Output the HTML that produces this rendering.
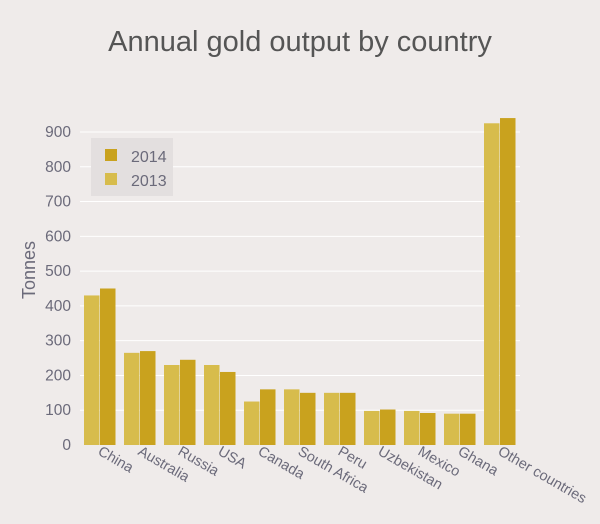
<!DOCTYPE html>
<html><head><meta charset="utf-8"><style>
body{margin:0;background:#efebea;}
svg{display:block;font-family:"Liberation Sans",sans-serif;}
</style></head><body>
<svg id="c" width="600" height="524">
<rect width="600" height="524" fill="#efebea"/>
<text x="300" y="51" text-anchor="middle" font-size="29" fill="#555">Annual gold output by country</text>
<g id="grid"></g><g id="bars"></g><g id="xl"></g>
<text transform="translate(35,270) rotate(-90)" text-anchor="middle" font-size="18" fill="#6b6a7a">Tonnes</text>
<g>
<rect x="91" y="138" width="82" height="58" fill="#e3dfdf"/>
<rect x="105" y="149" width="12" height="12" fill="#c9a21e"/>
<text x="131" y="162" font-size="16" fill="#6b6a7a">2014</text>
<rect x="105" y="173" width="12" height="12" fill="#d7bc4c"/>
<text x="131" y="186" font-size="16" fill="#6b6a7a">2013</text>
</g>
</svg>
<script>
const categories=["China","Australia","Russia","USA","Canada","South Africa","Peru","Uzbekistan","Mexico","Ghana","Other countries"];
const values2013=[430,265,230,230,125,160,150,98,98,90,925];
const values2014=[450,270,245,210,160,150,150,102,92,90,940];
const yTicks=[0,100,200,300,400,500,600,700,800,900];
const NS="http://www.w3.org/2000/svg";
const y=v=>445-v*0.3478;
const x=i=>80+i*40;
function mk(t,a,p){const e=document.createElementNS(NS,t);for(const k in a)e.setAttribute(k,a[k]);p.appendChild(e);return e;}
const g=document.getElementById('grid'),b=document.getElementById('bars'),xl=document.getElementById('xl');
yTicks.forEach(v=>{
 if(v>0){const l=mk('line',{x1:80,x2:520,y1:y(v),y2:y(v),stroke:'#fff','stroke-width':1},g);
 
 }
 const t=mk('text',{x:71,y:y(v)+5,'text-anchor':'end','font-size':15.5,fill:'#6b6a7a'},g);t.textContent=v;
 
 
});
categories.forEach((c,i)=>{
 const r1=mk('rect',{x:x(i)+4,y:y(values2013[i]),width:15.5,height:445-y(values2013[i]),fill:'#d7bc4c'},b);
 
 
 const r2=mk('rect',{x:x(i)+20,y:y(values2014[i]),width:15.5,height:445-y(values2014[i]),fill:'#c9a21e'},b);
 
 
 const t=mk('text',{transform:`translate(${x(i)+17},454) rotate(30)`,'font-size':14.5,fill:'#6b6a7a'},xl);
 t.textContent=c;
 
 
});
</script>
</body></html>
